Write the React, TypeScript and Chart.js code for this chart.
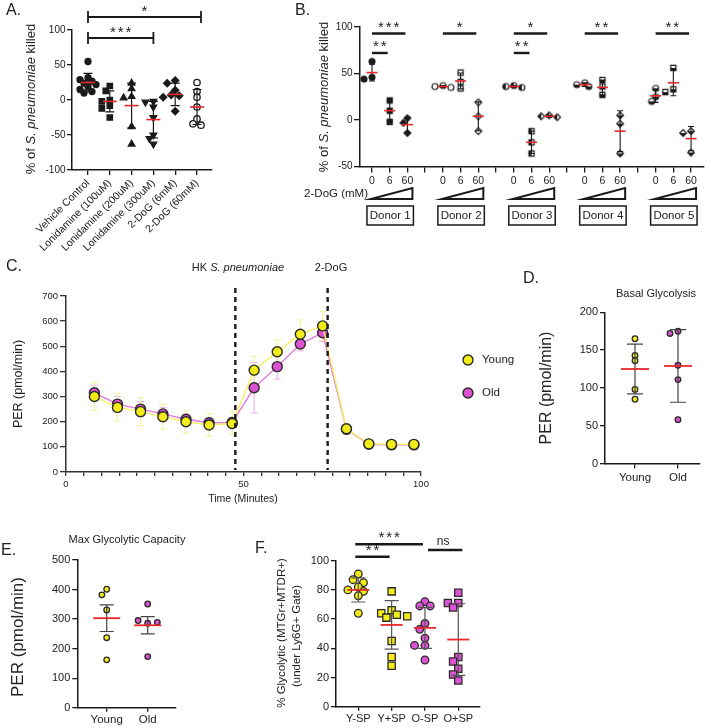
import React, { useEffect, useRef } from 'react';
import { Chart, registerables } from 'chart.js';

Chart.register(...registerables);

const FONT = 'Arial, "Liberation Sans", Helvetica, sans-serif';
const INK = '#1a1a1a';
const TEXT = '#222';
const RED = '#e8282b';
const YELLOW = '#f2ec18';
const PINK = '#dc52d2';

// ---------- A: killing with glycolysis inhibitors ----------
const aCategories = ['Vehicle Control', 'Lonidamine (100uM)', 'Lonidamine (200uM)', 'Lonidamine (300uM)', '2-DoG (6mM)', '2-DoG (60mM)'];
const aVehicle = [55, 32, 29, 27, 24, 22, 19, 15, 12, 10];
const aLon100 = [20, 13, 0, -2, -8, -12, -25];
const aLon200 = [24, 16, 5, 3, -38, -63];
const aLon300 = [-2, -3, -10, -25, -50, -55, -63];
const aDog6 = [28, 24, 14, 7, 6, 4, -16];
const aDog60 = [25, 12, 4, -10, -27, -34, -36];
const aMean = [25, -2, -8, -28, 8, -10];
const aSd = [13, 15, 32, 26, 16, 25];
const aTicks = [-100, -50, 0, 50, 100];
const aSig: [number, number, string][] = [[0, 5, '*'], [0, 3, '***']];

// ---------- B: per-donor 2-DoG dose response ----------
const bDonors = ['Donor 1', 'Donor 2', 'Donor 3', 'Donor 4', 'Donor 5'];
const bDoses = ['0', '6', '60'];
const b0mM = [[63, 46, 44], [37, 36, 35], [37, 36, 35], [40, 38, 36], [34, 25, 20]];
const b6mM = [[21, 10, -2], [51, 41, 34], [-12, -24, -36], [43, 36, 27], [56, 33, 30]];
const b60mM = [[2, -3, -14], [19, 4, -12], [5, 4, 3], [5, -4, -36], [-12, -14, -35]];
const bMean0 = [51, 36, 36, 38, 26];
const bMean6 = [10, 42, -24, 35, 40];
const bMean60 = [-5, 4, 4, -12, -20];
const bSd0 = [9, 1, 1, 2, 7];
const bSd6 = [11, 8.5, 12, 8, 14];
const bSd60 = [8, 15.5, 1, 22, 13];
const bTicks = [-50, 0, 50, 100];
// [first slot, second slot, label, row]
const bSig: [number, number, string, number][] = [
  [0, 2, '***', 0], [0, 1, '**', 1], [4, 6, '*', 0], [8, 10, '*', 0], [8, 9, '**', 1], [12, 14, '**', 0], [16, 18, '**', 0],
];

// ---------- C: PER time course ----------
const cTime = [8, 14.5, 21, 27.3, 33.8, 40.3, 46.8, 53, 59.5, 66, 72.3, 79, 85.3, 91.7, 98];
const cYoung = [300, 257, 240, 220, 200, 187, 193, 405, 478, 548, 581, 172, 112, 110, 110];
const cOld = [315, 270, 250, 231, 210, 196, 197, 335, 419, 509, 554, 170, 110, 108, 108];
const cYoungSd = [55, 55, 55, 50, 45, 45, 45, 55, 47, 57, 57, 20, 12, 12, 12];
const cOldSd = [30, 30, 30, 25, 20, 20, 20, 100, 49, 27, 36, 20, 10, 10, 10];
const cHkTime = 47.7;
const cDogTime = 73.7;
const cYTicks = [0, 100, 200, 300, 400, 500, 600, 700];

// ---------- D: basal glycolysis ----------
const ageGroups = ['Young', 'Old'];
const dYoung = [165, 143, 136, 98, 85];
const dOld = [175, 172, 130, 111, 58];
const dMean = [125, 129];
const dSd = [33, 48];
const dTicks = [0, 50, 100, 150, 200];

// ---------- E: max glycolytic capacity ----------
const eYoung = [401, 382, 331, 237, 162];
const eOld = [351, 286, 295, 289, 173];
const eMean = [303, 279];
const eSem = [45, 29];
const eTicks = [0, 100, 200, 300, 400, 500];

// ---------- F: glycolytic neutrophils ----------
const fGroups = ['Y-SP', 'Y+SP', 'O-SP', 'O+SP'];
const fYneg = [91, 87, 85, 82, 80, 79, 76, 64];
const fYpos = [79, 66, 64, 63, 62, 61, 45, 34, 28];
const fOneg = [72, 69, 69, 57, 53, 47, 42, 42, 32];
const fOpos = [78, 71, 71, 68, 34, 31, 26, 22, 18];
const fMean = [80, 56, 54, 46];
const fSd = [8.3, 16.6, 14, 24.5];
const fTicks = [0, 20, 40, 60, 80, 100];
const fSig: [number, number, string][] = [[0, 2, '***'], [0, 1, '**'], [2, 3, 'ns']];

type Box = { l: number; t: number; w: number; h: number };
type Area = { x0: number; y0: number; x1: number; y1: number };

const A_BOX: Box = { l: 0, t: 0, w: 240, h: 262 };
const B_BOX: Box = { l: 240, t: 0, w: 469, h: 245 };
const C_BOX: Box = { l: 0, t: 250, w: 530, h: 262 };
const D_BOX: Box = { l: 515, t: 250, w: 194, h: 242 };
const E_BOX: Box = { l: 0, t: 512, w: 250, h: 216 };
const F_BOX: Box = { l: 250, t: 512, w: 240, h: 216 };

interface AxisSpec {
  min: number;
  max: number;
  ticks: number[];
  label?: (v: number) => string;
  font: number;
  rotation?: number;
  tickLength?: number;
  padding?: number;
  color?: string;
  width?: number;
}

function axis(dir: 'x' | 'y', size: number, s: AxisSpec) {
  const color = s.color ?? INK;
  return {
    type: 'linear',
    position: dir === 'x' ? 'bottom' : 'left',
    min: s.min,
    max: s.max,
    afterBuildTicks: (sc: any) => {
      sc.ticks = s.ticks.map((value) => ({ value }));
    },
    afterFit: (sc: any) => {
      if (dir === 'x') sc.height = size;
      else sc.width = size;
    },
    ticks: {
      callback: (v: any) => (s.label ? s.label(Number(v)) : String(v)),
      font: { family: FONT, size: s.font },
      color: TEXT,
      autoSkip: false,
      maxRotation: s.rotation ?? 0,
      minRotation: s.rotation ?? 0,
      padding: s.padding ?? 2,
    },
    grid: {
      display: true,
      drawOnChartArea: false,
      drawTicks: true,
      tickLength: s.tickLength ?? 5,
      color,
      lineWidth: s.width ?? 1.3,
    },
    border: { display: true, color, width: s.width ?? 1.5 },
  };
}

type Deco = (ctx: CanvasRenderingContext2D, X: (v: number) => number, Y: (v: number) => number) => void;

function build(
  canvas: HTMLCanvasElement,
  box: Box,
  area: Area,
  xs: AxisSpec,
  ys: AxisSpec,
  datasets: any[],
  before: Deco | null,
  after: Deco | null,
) {
  const run = (chart: any, fn: Deco | null) => {
    if (!fn) return;
    const ctx = chart.ctx as CanvasRenderingContext2D;
    ctx.save();
    ctx.translate(-box.l, -box.t);
    fn(ctx, (v) => chart.scales.x.getPixelForValue(v) + box.l, (v) => chart.scales.y.getPixelForValue(v) + box.t);
    ctx.restore();
  };
  return new Chart(canvas, {
    type: 'scatter',
    data: { datasets },
    options: {
      responsive: false,
      animation: false,
      devicePixelRatio: 1,
      events: [],
      layout: { padding: { left: 0, top: area.y0 - box.t, right: box.l + box.w - area.x1, bottom: 0 } },
      scales: {
        x: axis('x', box.t + box.h - area.y1, xs) as any,
        y: axis('y', area.x0 - box.l, ys) as any,
      },
      plugins: { legend: { display: false }, tooltip: { enabled: false } },
    },
    plugins: [
      {
        id: 'decor',
        beforeDatasetsDraw: (c: any) => run(c, before),
        afterDraw: (c: any) => run(c, after),
      },
    ],
  } as any);
}

// horizontal spreading of overlapping points (offsets in x units)
function swarm(vals: number[], pyu: number, pxu: number, d: number): number[] {
  const placed: { x: number; y: number }[] = [];
  return vals.map((v) => {
    const y = v * pyu;
    for (const k of [0, -1, 1, -2, 2, -3, 3]) {
      const x = k * d * 0.8;
      if (placed.every((p) => Math.hypot(p.x - x, p.y - y) >= d)) {
        placed.push({ x, y });
        return x / pxu;
      }
    }
    placed.push({ x: 0, y });
    return 0;
  });
}

function scaleOf(area: Area, xs: AxisSpec, ys: AxisSpec) {
  return {
    pxu: (area.x1 - area.x0) / (xs.max - xs.min),
    pyu: (area.y1 - area.y0) / (ys.max - ys.min),
  };
}

type Run = [string, boolean?];
function rich(ctx: CanvasRenderingContext2D, runs: Run[], cx: number, cy: number, size: number, vertical = false) {
  ctx.save();
  ctx.translate(cx, cy);
  if (vertical) ctx.rotate(-Math.PI / 2);
  const fontOf = (it?: boolean) => `${it ? 'italic ' : ''}${size}px ${FONT}`;
  let total = 0;
  const widths = runs.map(([t, it]) => {
    ctx.font = fontOf(it);
    const w = ctx.measureText(t).width;
    total += w;
    return w;
  });
  let x = -total / 2;
  ctx.fillStyle = TEXT;
  ctx.textBaseline = 'middle';
  ctx.textAlign = 'left';
  runs.forEach(([t, it], i) => {
    ctx.font = fontOf(it);
    ctx.fillText(t, x, 0);
    x += widths[i];
  });
  ctx.restore();
}

function label(ctx: CanvasRenderingContext2D, t: string, x: number, y: number, size: number, align: CanvasTextAlign = 'left', baseline: CanvasTextBaseline = 'alphabetic') {
  ctx.save();
  ctx.font = `${size}px ${FONT}`;
  ctx.fillStyle = TEXT;
  ctx.textAlign = align;
  ctx.textBaseline = baseline;
  ctx.fillText(t, x, y);
  ctx.restore();
}

function stars(ctx: CanvasRenderingContext2D, t: string, cx: number, baseY: number, size: number) {
  ctx.save();
  ctx.font = `${size}px ${FONT}`;
  (ctx as any).letterSpacing = '2px';
  ctx.fillStyle = TEXT;
  ctx.textAlign = 'center';
  ctx.textBaseline = 'alphabetic';
  ctx.fillText(t, cx + 1, baseY);
  ctx.restore();
}

function meanErr(
  ctx: CanvasRenderingContext2D,
  X: (v: number) => number,
  Y: (v: number) => number,
  means: number[],
  errs: number[],
  o: { meanHalf: number; capHalf: number; color: string; lw: number; meanLw: number; at?: number[] },
) {
  means.forEach((m, i) => {
    const px = X(o.at ? o.at[i] : i);
    const top = Y(m + errs[i]);
    const bot = Y(m - errs[i]);
    ctx.strokeStyle = o.color;
    ctx.lineWidth = o.lw;
    ctx.beginPath();
    ctx.moveTo(px, top);
    ctx.lineTo(px, bot);
    ctx.moveTo(px - o.capHalf, top);
    ctx.lineTo(px + o.capHalf, top);
    ctx.moveTo(px - o.capHalf, bot);
    ctx.lineTo(px + o.capHalf, bot);
    ctx.stroke();
    const pm = Y(m);
    ctx.strokeStyle = RED;
    ctx.lineWidth = o.meanLw;
    ctx.beginPath();
    ctx.moveTo(px - o.meanHalf, pm);
    ctx.lineTo(px + o.meanHalf, pm);
    ctx.stroke();
  });
}

function hLine(ctx: CanvasRenderingContext2D, x0: number, x1: number, y: number, lw: number) {
  ctx.strokeStyle = INK;
  ctx.lineWidth = lw;
  ctx.beginPath();
  ctx.moveTo(x0, y);
  ctx.lineTo(x1, y);
  ctx.stroke();
}

// small marker images for the per-donor symbols
function marker(shape: 'circle' | 'square' | 'diamond', fill: 'solid' | 'open' | 'left' | 'bottom', r: number) {
  const s = Math.ceil(r * 2 + 4);
  const c = document.createElement('canvas');
  c.width = s;
  c.height = s;
  const g = c.getContext('2d')!;
  const m = s / 2;
  const path = () => {
    g.beginPath();
    if (shape === 'circle') g.arc(m, m, r, 0, Math.PI * 2);
    else if (shape === 'square') g.rect(m - r * 0.85, m - r * 0.85, r * 1.7, r * 1.7);
    else {
      g.moveTo(m, m - r * 1.1);
      g.lineTo(m + r * 1.1, m);
      g.lineTo(m, m + r * 1.1);
      g.lineTo(m - r * 1.1, m);
      g.closePath();
    }
  };
  path();
  g.fillStyle = fill === 'solid' ? INK : '#fff';
  g.fill();
  if (fill === 'left' || fill === 'bottom') {
    g.save();
    path();
    g.clip();
    g.fillStyle = INK;
    if (fill === 'left') g.fillRect(0, 0, m, s);
    else g.fillRect(0, m, s, s);
    g.restore();
  }
  path();
  g.lineWidth = 1.2;
  g.strokeStyle = INK;
  g.stroke();
  return c;
}

// ---------- panel builders ----------
function buildA(canvas: HTMLCanvasElement) {
  const area = { x0: 72, y0: 30, x1: 212, y1: 170 };
  const xs: AxisSpec = {
    min: -0.734, max: 5.688, ticks: aCategories.map((_, i) => i),
    label: (v) => aCategories[Math.round(v)] ?? '', font: 10.5, rotation: 45, padding: 2,
  };
  const ys: AxisSpec = { min: -100, max: 100, ticks: aTicks, font: 10, padding: 1.5 };
  const { pxu, pyu } = scaleOf(area, xs, ys);
  const groups = [aVehicle, aLon100, aLon200, aLon300, aDog6, aDog60];
  const styles = [
    { ps: 'circle', fill: INK, rot: 0, r: 3 },
    { ps: 'rect', fill: INK, rot: 0, r: 3.8 },
    { ps: 'triangle', fill: INK, rot: 0, r: 3.8 },
    { ps: 'triangle', fill: INK, rot: 180, r: 3.8 },
    { ps: 'rectRot', fill: INK, rot: 0, r: 3.6 },
    { ps: 'circle', fill: '#fff', rot: 0, r: 3.2 },
  ];
  const datasets = groups.map((vals, gi) => {
    const off = swarm(vals, pyu, pxu, 5);
    const st = styles[gi];
    return {
      data: vals.map((v, i) => ({ x: gi + off[i], y: v })),
      pointStyle: st.ps,
      rotation: st.rot,
      pointRadius: st.r,
      pointBackgroundColor: st.fill,
      pointBorderColor: INK,
      pointBorderWidth: 1.3,
    };
  });
  return build(canvas, A_BOX, area, xs, ys, datasets, null, (ctx, X, Y) => {
    meanErr(ctx, X, Y, aMean, aSd, { meanHalf: 7, capHalf: 4.5, color: INK, lw: 1.2, meanLw: 1.6 });
    const rows = [17, 38];
    aSig.forEach(([a, b, t], i) => {
      const y = rows[i];
      const x0 = X(a);
      const x1 = X(b) + (b === 5 ? 4 : 0);
      ctx.strokeStyle = INK;
      ctx.lineWidth = 1.8;
      ctx.beginPath();
      ctx.moveTo(x0, y);
      ctx.lineTo(x1, y);
      ctx.moveTo(x0, y - 6);
      ctx.lineTo(x0, y + 6);
      ctx.moveTo(x1, y - 6);
      ctx.lineTo(x1, y + 6);
      ctx.stroke();
      stars(ctx, t, (x0 + x1) / 2, y - 1, 15);
    });
    label(ctx, 'A.', 6, 15, 16);
    rich(ctx, [['% of '], ['S. pneumoniae', true], [' killed']], 31, 99, 13, true);
  });
}

function buildB(canvas: HTMLCanvasElement) {
  const area = { x0: 360, y0: 27, x1: 705, y1: 166.5 };
  const slots = bDonors.length * 4 - 1;
  const xs: AxisSpec = {
    min: -0.675, max: 18.73, ticks: Array.from({ length: slots }, (_, i) => i),
    label: (v) => bDoses[Math.round(v) % 4] ?? '', font: 10.5, tickLength: 6, padding: 2,
  };
  const ys: AxisSpec = { min: -50, max: 100, ticks: bTicks, font: 10, tickLength: 6, padding: 1.5 };
  const { pxu, pyu } = scaleOf(area, xs, ys);
  const fills: ('solid' | 'open' | 'left' | 'bottom')[] = ['solid', 'open', 'left', 'bottom', 'bottom'];
  const shapes: ('circle' | 'square' | 'diamond')[] = ['circle', 'square', 'diamond'];
  const byDose = [b0mM, b6mM, b60mM];
  const datasets: any[] = [];
  bDonors.forEach((_, d) => {
    byDose.forEach((arr, k) => {
      const vals = arr[d];
      const off = swarm(vals, pyu, pxu, 5);
      datasets.push({
        data: vals.map((v, i) => ({ x: d * 4 + k + off[i], y: v })),
        pointStyle: marker(shapes[k], fills[d], 3),
        pointRadius: 3,
      });
    });
  });
  return build(canvas, B_BOX, area, xs, ys, datasets, null, (ctx, X, Y) => {
    const at = (k: number) => bDonors.map((_, d) => d * 4 + k);
    const o = { meanHalf: 5.5, capHalf: 3, color: INK, lw: 1.1, meanLw: 1.6 };
    meanErr(ctx, X, Y, bMean0, bSd0, { ...o, at: at(0) });
    meanErr(ctx, X, Y, bMean6, bSd6, { ...o, at: at(1) });
    meanErr(ctx, X, Y, bMean60, bSd60, { ...o, at: at(2) });
    const rows = [33.5, 53];
    bSig.forEach(([a, b, t, r]) => {
      const x0 = X(a);
      const x1 = X(b) - 2;
      hLine(ctx, x0, x1, rows[r], 2.4);
      stars(ctx, t, (x0 + x1) / 2, rows[r] - 2, 15);
    });
    label(ctx, '2-DoG (mM)', 368, 194, 11.5, 'right', 'middle');
    bDonors.forEach((name, d) => {
      const l = X(d * 4) - 1;
      const r = X(d * 4 + 2) + 5;
      ctx.fillStyle = '#fff';
      ctx.strokeStyle = INK;
      ctx.lineWidth = 2;
      ctx.beginPath();
      ctx.moveTo(l, 199);
      ctx.lineTo(r, 199);
      ctx.lineTo(r, 188);
      ctx.closePath();
      ctx.fill();
      ctx.stroke();
      const bl = X(d * 4) - 5;
      const br = X(d * 4 + 2) + 6;
      ctx.lineWidth = 1.5;
      ctx.strokeRect(bl, 206, br - bl, 19);
      label(ctx, name, (bl + br) / 2, 215.5, 11.5, 'center', 'middle');
    });
    label(ctx, 'B.', 295, 15, 16);
    rich(ctx, [['% of '], ['S. pneumoniae', true], [' killed']], 324, 97, 13, true);
  });
}

function buildC(canvas: HTMLCanvasElement) {
  const area = { x0: 66, y0: 296, x1: 421, y1: 472 };
  const xs: AxisSpec = {
    min: 0, max: 100, ticks: Array.from({ length: 21 }, (_, i) => i * 5),
    label: (v) => (v % 50 === 0 ? String(v) : ''), font: 9.5, tickLength: 4, padding: 3, color: '#333',
  };
  const ys: AxisSpec = { min: 0, max: 700, ticks: cYTicks, font: 9.5, tickLength: 6, padding: 2, color: '#333' };
  const series = (vals: number[], line: string, fill: string) => ({
    data: cTime.map((t, i) => ({ x: t, y: vals[i] })),
    showLine: true,
    borderColor: line,
    borderWidth: 1.4,
    pointRadius: 5,
    pointBackgroundColor: fill,
    pointBorderColor: '#2a2a2a',
    pointBorderWidth: 1.4,
  });
  const datasets = [series(cYoung, '#f6f060', YELLOW), series(cOld, '#e27ae0', PINK)];
  const bars = (ctx: CanvasRenderingContext2D, X: (v: number) => number, Y: (v: number) => number, vals: number[], sd: number[], color: string) => {
    ctx.strokeStyle = color;
    ctx.lineWidth = 1;
    ctx.beginPath();
    cTime.forEach((t, i) => {
      const px = X(t);
      const top = Y(vals[i] + sd[i]);
      const bot = Y(vals[i] - sd[i]);
      ctx.moveTo(px, top);
      ctx.lineTo(px, bot);
      ctx.moveTo(px - 3.5, top);
      ctx.lineTo(px + 3.5, top);
      ctx.moveTo(px - 3.5, bot);
      ctx.lineTo(px + 3.5, bot);
    });
    ctx.stroke();
  };
  return build(
    canvas, C_BOX, area, xs, ys, datasets,
    (ctx, X, Y) => {
      bars(ctx, X, Y, cOld, cOldSd, '#eeaaea');
      bars(ctx, X, Y, cYoung, cYoungSd, '#f4ef9c');
    },
    (ctx, X) => {
      ctx.save();
      ctx.strokeStyle = INK;
      ctx.lineWidth = 2.4;
      ctx.setLineDash([5, 4]);
      [cHkTime, cDogTime].forEach((t) => {
        ctx.beginPath();
        ctx.moveTo(X(t), 288);
        ctx.lineTo(X(t), 470);
        ctx.stroke();
      });
      ctx.restore();
      rich(ctx, [['HK '], ['S. pneumoniae', true]], 238, 268, 11);
      rich(ctx, [['2-DoG']], 331, 268, 11);
      rich(ctx, [['Time (Minutes)']], 243, 499, 10.5);
      rich(ctx, [['PER (pmol/min)']], 19, 384, 12.5, true);
      label(ctx, 'C.', 6, 271, 16);
      [['Young', YELLOW, 360], ['Old', PINK, 393]].forEach(([name, fill, y]) => {
        ctx.beginPath();
        ctx.arc(468, y as number, 5, 0, Math.PI * 2);
        ctx.fillStyle = fill as string;
        ctx.fill();
        ctx.lineWidth = 1.4;
        ctx.strokeStyle = '#2a2a2a';
        ctx.stroke();
        label(ctx, name as string, 482, y as number, 11.5, 'left', 'middle');
      });
    },
  );
}

function dotPanel(
  canvas: HTMLCanvasElement,
  box: Box,
  area: Area,
  xs: AxisSpec,
  ys: AxisSpec,
  groups: number[][],
  fills: string[],
  shapes: string[],
  radius: number,
  d: number,
  after: Deco,
) {
  const { pxu, pyu } = scaleOf(area, xs, ys);
  const datasets = groups.map((vals, gi) => {
    const off = swarm(vals, pyu, pxu, d);
    return {
      data: vals.map((v, i) => ({ x: gi + off[i], y: v })),
      pointStyle: shapes[gi],
      pointRadius: radius * (shapes[gi] === 'rect' ? 1.35 : 1),
      pointBackgroundColor: fills[gi],
      pointBorderColor: '#2a2a2a',
      pointBorderWidth: 1.3,
    };
  });
  return build(canvas, box, area, xs, ys, datasets, null, after);
}

function buildD(canvas: HTMLCanvasElement) {
  const area = { x0: 605, y0: 312.3, x1: 700, y1: 463.5 };
  const xs: AxisSpec = { min: -0.698, max: 1.512, ticks: [0, 1], label: (v) => ageGroups[Math.round(v)] ?? '', font: 11.5, padding: 2 };
  const ys: AxisSpec = { min: 0, max: 200, ticks: dTicks, font: 11, padding: 2 };
  return dotPanel(canvas, D_BOX, area, xs, ys, [dYoung, dOld], [YELLOW, PINK], ['circle', 'circle'], 2.8, 5, (ctx, X, Y) => {
    meanErr(ctx, X, Y, dMean, dSd, { meanHalf: 14, capHalf: 8, color: '#444', lw: 1.2, meanLw: 1.8 });
    rich(ctx, [['Basal Glycolysis']], 656, 294, 11);
    rich(ctx, [['PER (pmol/min)']], 547, 388, 16, true);
    label(ctx, 'D.', 523, 283, 16);
  });
}

function buildE(canvas: HTMLCanvasElement) {
  const area = { x0: 77.3, y0: 560, x1: 175.7, y1: 707.7 };
  const xs: AxisSpec = { min: -0.717, max: 1.683, ticks: [0, 1], label: (v) => ageGroups[Math.round(v)] ?? '', font: 11.5, tickLength: 4, padding: 1 };
  const ys: AxisSpec = { min: 0, max: 500, ticks: eTicks, font: 11, padding: 2 };
  return dotPanel(canvas, E_BOX, area, xs, ys, [eYoung, eOld], [YELLOW, PINK], ['circle', 'circle'], 2.8, 6, (ctx, X, Y) => {
    meanErr(ctx, X, Y, eMean, eSem, { meanHalf: 13.5, capHalf: 7, color: '#444', lw: 1.2, meanLw: 1.8 });
    rich(ctx, [['Max Glycolytic Capacity']], 127, 540, 11);
    rich(ctx, [['PER (pmol/min)']], 18, 637, 17, true);
    label(ctx, 'E.', 1, 555, 16);
  });
}

function buildF(canvas: HTMLCanvasElement) {
  const area = { x0: 336, y0: 560.7, x1: 480, y1: 706.7 };
  const xs: AxisSpec = { min: -0.669, max: 3.651, ticks: [0, 1, 2, 3], label: (v) => fGroups[Math.round(v)] ?? '', font: 11, tickLength: 4, padding: 2 };
  const ys: AxisSpec = { min: 0, max: 100, ticks: fTicks, font: 11, padding: 2 };
  return dotPanel(
    canvas, F_BOX, area, xs, ys, [fYneg, fYpos, fOneg, fOpos], [YELLOW, YELLOW, PINK, PINK],
    ['circle', 'rect', 'circle', 'rect'], 3.8, 6.5,
    (ctx, X, Y) => {
      meanErr(ctx, X, Y, fMean, fSd, { meanHalf: 11, capHalf: 7, color: '#555', lw: 1.2, meanLw: 1.8 });
      const rows = [544.3, 556.7, 550];
      fSig.forEach(([a, b, t], i) => {
        const x0 = X(a) + (t === 'ns' ? 3 : -3);
        const x1 = X(b) + (t === 'ns' ? 4 : -2);
        hLine(ctx, x0, x1, rows[i], 2.4);
        if (t === 'ns') label(ctx, t, (x0 + x1) / 2 - 2, rows[i] - 5, 12, 'center');
        else stars(ctx, t, (x0 + x1) / 2, rows[i] - 2, 15);
      });
      rich(ctx, [['% Glycolytic (MTGr+MTDR+)']], 282, 633, 11.5, true);
      rich(ctx, [['(under Ly6G+ Gate)']], 297, 636, 11.5, true);
      label(ctx, 'F.', 255, 553, 16);
    },
  );
}

function Panel({ box, make }: { box: Box; make: (c: HTMLCanvasElement) => Chart }) {
  const ref = useRef<HTMLCanvasElement>(null);
  useEffect(() => {
    const chart = make(ref.current!);
    return () => chart.destroy();
  }, [make]);
  return (
    <canvas
      ref={ref}
      width={box.w}
      height={box.h}
      style={{ position: 'absolute', left: box.l, top: box.t, width: box.w, height: box.h }}
    />
  );
}

export default function App() {
  return (
    <div style={{ position: 'fixed', left: 0, top: 0, width: 709, height: 728, background: '#fff', overflow: 'hidden' }}>
      <Panel box={C_BOX} make={buildC} />
      <Panel box={A_BOX} make={buildA} />
      <Panel box={B_BOX} make={buildB} />
      <Panel box={D_BOX} make={buildD} />
      <Panel box={E_BOX} make={buildE} />
      <Panel box={F_BOX} make={buildF} />
    </div>
  );
}
